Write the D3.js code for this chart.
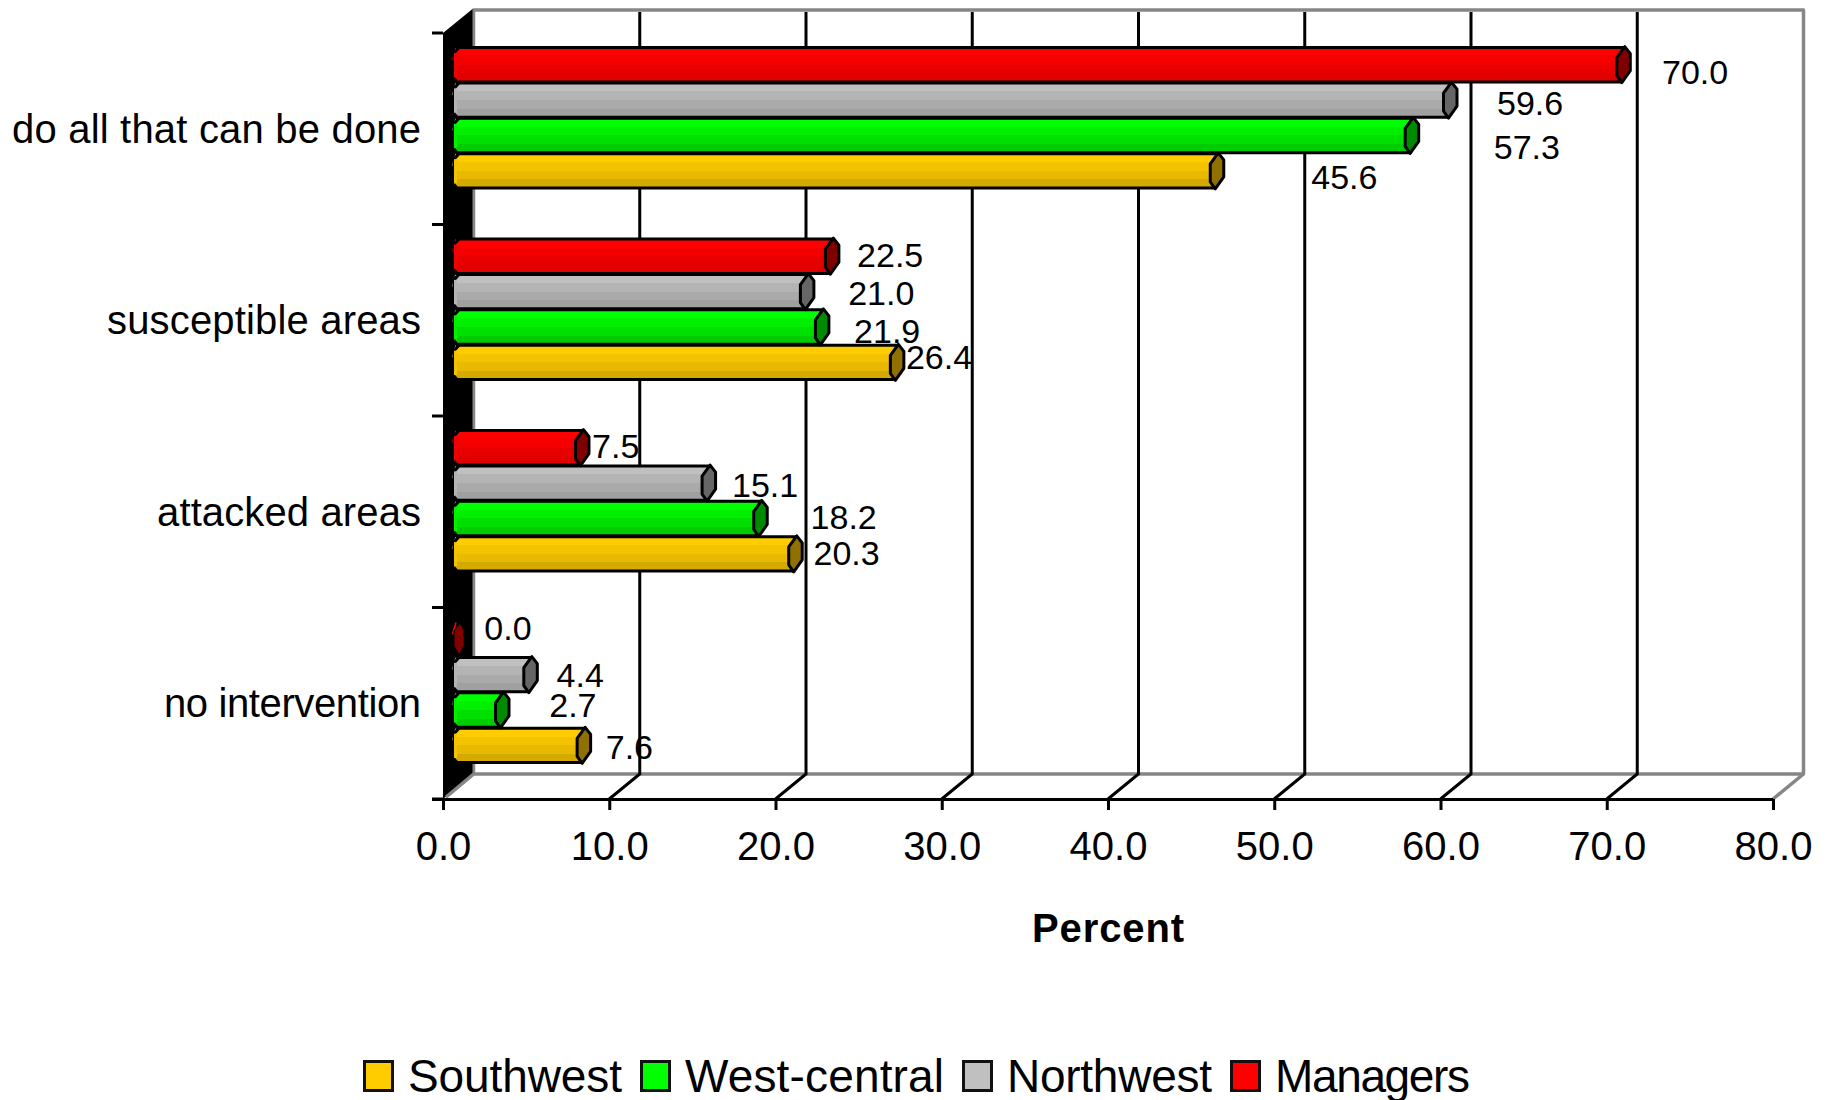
<!DOCTYPE html>
<html>
<head>
<meta charset="utf-8">
<script src="https://cdn.jsdelivr.net/npm/d3@7"></script>
<style>
html,body{margin:0;padding:0;background:#fff;}
svg{display:block;font-family:"Liberation Sans",Arial,sans-serif;fill:#000;}
</style>
</head>
<body>
<svg id="chart" width="1829" height="1100"></svg>
<script>
// Data, top to bottom in the drawing order of the workbook
const categories = ["do all that can be done", "susceptible areas", "attacked areas", "no intervention"];
const seriesNames = ["Southwest", "West-central", "Northwest", "Managers"];
const southwest = [45.6, 26.4, 20.3, 7.6];
const westCentral = [57.3, 21.9, 18.2, 2.7];
const northwest = [59.6, 21.0, 15.1, 4.4];
const managers = [70.0, 22.5, 7.5, 0.0];
const seriesValues = [southwest, westCentral, northwest, managers];
const xTicks = [0, 10, 20, 30, 40, 50, 60, 70, 80];

// Hand-placed label offsets from each bar end, as in the original chart
const labelDx = [[132, 46, 55, 49], [120, 69, 87, 74], [85, 78, 60, 53], [77, 62, 37, 54]];
const labelDy = [[8.5, -3, 1.5, 4], [13, 5.5, 0, -3.5], [3.5, 2, 2.5, 1], [7, -1.5, -2, -11.5]];
// Text widths measured on the reference, which was set in a slightly different face
const categoryWidths = [409, 314, 264, 257];
const legendWidths = [214, 259, 205, 195];

const bands = [
  ["#ffcc00", "#f4c300", "#e8b900", "#d4a900"],
  ["#00ff00", "#00f000", "#00e000", "#00cc00"],
  ["#c0c0c0", "#b4b4b4", "#aaaaaa", "#a0a0a0"],
  ["#ff0000", "#f40000", "#e80000", "#e00000"]
];
const capColors = ["#8f7000", "#008a00", "#666666", "#800000"];
const swatchColors = ["#ffcc00", "#00ff00", "#c0c0c0", "#ff0000"];

const svg = d3.select("#chart");
const depthX = 30.5, depthY = 25;
const x = d3.scaleLinear().domain([0, 80]).range([443, 1773]);
const xBar = d3.scaleLinear().domain([0, 80]).range([451.5, 1784.4]);
const xLabel = d3.scaleLinear().domain([0, 80]).range([454, 1784.4]);
const barStart = 454;
const y = d3.scaleBand().domain(categories).range([33, 799]);
const slot = d3.scaleBand().domain([3, 2, 1, 0]).range([14, 155.5]);
const floorY = y.range()[1];
const backBottom = floorY - depthY, backTop = 10;
const line = d3.line();

// Gradients
const defs = svg.append("defs");
bands.forEach((b, i) => {
  const g = defs.append("linearGradient").attr("id", "g" + i).attr("x1", 0).attr("x2", 0).attr("y1", 0).attr("y2", 1);
  b.forEach((c, k) => {
    g.append("stop").attr("offset", k / b.length).attr("stop-color", c);
    g.append("stop").attr("offset", (k + 1) / b.length).attr("stop-color", c);
  });
});

// Back wall frame
const gray = "#868686";
svg.append("path").attr("fill", "none").attr("stroke", gray).attr("stroke-width", 3.5).attr("stroke-linejoin", "round")
  .attr("d", line([[x(0) + depthX, backBottom], [x(0) + depthX, backTop], [x(80) + depthX, backTop], [x(80) + depthX, backBottom], [x(80), floorY]]));
svg.append("path").attr("fill", "none").attr("stroke", gray).attr("stroke-width", 3.5)
  .attr("d", line([[x(0) + 3, floorY - 2], [x(0) + depthX, backBottom], [x(80) + depthX, backBottom]]));

// Gridlines and floor ticks
const inner = xTicks.slice(1, -1);
svg.append("g").selectAll("path").data(inner).join("path")
  .attr("fill", "none").attr("stroke", "#000").attr("stroke-width", 3)
  .attr("d", d => line([[x(d), floorY], [x(d) + depthX, backBottom], [x(d) + depthX, backTop + 2]]));

// Left wall
svg.append("path").attr("fill", "#000")
  .attr("d", line([[x(0), y.range()[0]], [x(0) + depthX - 1, backTop - 1], [x(0) + depthX - 1, backBottom], [x(0), floorY]]) + "Z");
svg.append("path").attr("fill", "none").attr("stroke", gray).attr("stroke-width", 3)
  .attr("d", line([[x(0) + 3, floorY - 2], [x(0) + depthX, backBottom]]));

// Axes
const xAxis = svg.append("g").attr("transform", `translate(0,${floorY})`)
  .call(d3.axisBottom(x).tickValues(xTicks).tickFormat(d3.format(".1f")).tickSize(11).tickSizeOuter(0).tickPadding(22));
xAxis.selectAll("path,line").attr("stroke", "#000").attr("stroke-width", 3);
xAxis.selectAll("text").attr("font-size", 40).attr("font-family", "Liberation Sans").attr("fill", "#000");
xAxis.selectAll(".domain").attr("d", `M${x(0) - 11},0.5H${x(80)}`);

const yEdges = categories.map(c => y(c)).concat([floorY]);
svg.append("g").selectAll("line").data(yEdges).join("line")
  .attr("x1", x(0) - 11).attr("x2", x(0)).attr("y1", d => d).attr("y2", d => d)
  .attr("stroke", "#000").attr("stroke-width", 3);

const yAxis = svg.append("g").attr("transform", `translate(421,0)`)
  .call(d3.axisLeft(y).tickSize(0).tickPadding(0));
yAxis.select(".domain").remove();
yAxis.selectAll("text").attr("font-size", 40).attr("font-family", "Liberation Sans").attr("fill", "#000").attr("dy", 14)
  .attr("textLength", (d, i) => categoryWidths[i]).attr("lengthAdjust", "spacing");

// Bars
const plot = svg.append("g");
const capShape = (e, c) => [[e + 7, c - 18], [e + 12.5, c - 11], [e + 12.5, c + 6], [e + 4, c + 18], [e - 1, c + 11], [e - 1, c - 7]];
categories.forEach((cat, ci) => {
  seriesValues.forEach((vals, si) => {
    const v = vals[ci];
    const top = y(cat) + slot(si), h = slot.bandwidth(), c = top + h / 2;
    const e = xBar(v), x0 = barStart;
    const g = plot.append("g");
    g.append("path").attr("fill", "none").attr("stroke", bands[si][0]).attr("stroke-width", 1.5)
      .attr("d", line([[x0 - 1.5, c - 5], [x0 + 2, top + 1]]));
    if (v > 0) {
      g.append("path").attr("fill", `url(#g${si})`).attr("stroke", "#000").attr("stroke-width", 3).attr("stroke-linejoin", "round")
        .attr("d", line([[x0 + 5, top + 0.5], [e + 7, top + 0.5], [e + 4, top + h - 0.5], [x0 + 3, top + h - 0.5], [x0, top + h - 4], [x0, top + 6]]) + "Z");
      // colour the start of the tube over the wall
      g.append("path").attr("fill", "none").attr("stroke", bands[si][1]).attr("stroke-width", 3)
        .attr("d", line([[x0 + 1.5, top + 6], [x0 + 1.5, top + h - 5]]));
    }
    g.append("path").attr("fill", capColors[si]).attr("stroke", "#000").attr("stroke-width", v > 0 ? 3 : 1).attr("stroke-linejoin", "round")
      .attr("d", line(v > 0 ? capShape(e, c) : [[x0 + 6, c - 16], [x0 + 10, c - 9], [x0 + 10, c + 6], [x0 + 5, c + 16], [x0, c + 7], [x0, c - 8]]) + "Z");
  });
});

// Value labels
const labels = svg.append("g").attr("font-size", 34).attr("text-anchor", "middle");
categories.forEach((cat, ci) => {
  seriesValues.forEach((vals, si) => {
    const c = y(cat) + 15 + 34.5 * (3 - si + 0.5);
    labels.append("text")
      .attr("x", xLabel(vals[ci]) + labelDx[si][ci])
      .attr("y", c + labelDy[si][ci] + 12)
      .text(d3.format(".1f")(vals[ci]));
  });
});

// Axis title
svg.append("text").attr("x", 1108.5).attr("y", 942).attr("text-anchor", "middle")
  .attr("font-size", 40).attr("font-weight", "bold").attr("letter-spacing", 0.9).text("Percent");

// Legend
const legend = svg.append("g");
let cursor = 363;
seriesNames.forEach((name, i) => {
  legend.append("rect").attr("x", cursor + 1.5).attr("y", 1061.5).attr("width", 28).attr("height", 29)
    .attr("fill", swatchColors[i]).attr("stroke", "#111").attr("stroke-width", 3);
  legend.append("text").attr("x", cursor + 45).attr("y", 1092).attr("font-size", 46)
    .attr("textLength", legendWidths[i]).attr("lengthAdjust", "spacing").text(name);
  cursor += 45 + legendWidths[i] + 18;
});
</script>
</body>
</html>
